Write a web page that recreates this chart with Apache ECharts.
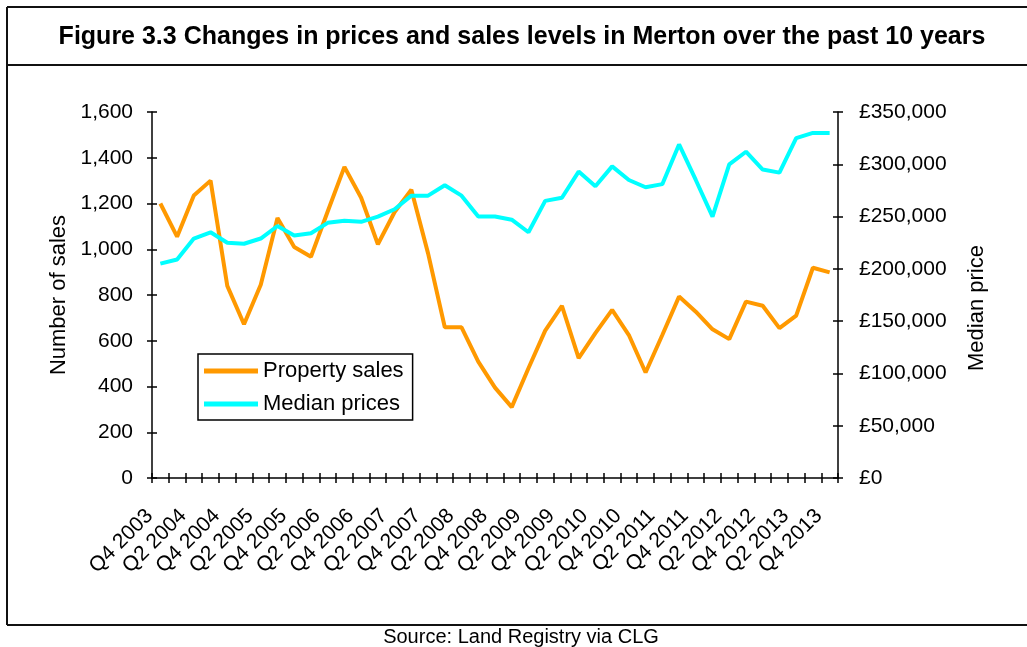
<!DOCTYPE html>
<html>
<head>
<meta charset="utf-8">
<title>Merton prices and sales</title>
<script src="https://cdn.jsdelivr.net/npm/echarts@6/dist/echarts.min.js"></script>
<style>
  html, body { margin: 0; padding: 0; background: #fff; }
  #chart { width: 1027px; height: 647px; }
</style>
</head>
<body>
<div id="chart"></div>
<script>
var quarters = [
	'Q4 2003', 'Q1 2004', 'Q2 2004', 'Q3 2004', 'Q4 2004',
	'Q1 2005', 'Q2 2005', 'Q3 2005', 'Q4 2005',
	'Q1 2006', 'Q2 2006', 'Q3 2006', 'Q4 2006',
	'Q1 2007', 'Q2 2007', 'Q3 2007', 'Q4 2007',
	'Q1 2008', 'Q2 2008', 'Q3 2008', 'Q4 2008',
	'Q1 2009', 'Q2 2009', 'Q3 2009', 'Q4 2009',
	'Q1 2010', 'Q2 2010', 'Q3 2010', 'Q4 2010',
	'Q1 2011', 'Q2 2011', 'Q3 2011', 'Q4 2011',
	'Q1 2012', 'Q2 2012', 'Q3 2012', 'Q4 2012',
	'Q1 2013', 'Q2 2013', 'Q3 2013', 'Q4 2013'
];
// property sales (number of sales)
var sales = [
	1200, 1055, 1235, 1300, 840,
	672, 845, 1137, 1010,
	967, 1165, 1360, 1225,
	1022, 1163, 1260, 982,
	659, 659, 509, 395,
	310, 480, 644, 752,
	524, 633, 735, 625,
	461, 625, 793, 727,
	650, 607, 771, 753,
	655, 710, 919, 899
];
// median prices (£)
var prices = [
	205000, 209000, 229000, 235000, 225000,
	224000, 229000, 241000, 232000,
	234000, 244000, 246000, 245000,
	250000, 257000, 270000, 270000,
	280000, 270000, 250000, 250000,
	247000, 235000, 265000, 268000,
	293000, 279000, 298000, 285000,
	278000, 281000, 319000, 285000,
	250000, 300000, 312000, 295000,
	292000, 325000, 330000, 330000
];
var salesTicks = { min: 0, max: 1600, interval: 200 };
var priceTicks = { min: 0, max: 350000, interval: 50000 };

var font = "'Liberation Sans', Arial, sans-serif";

function commas(v) {
	return String(v).replace(/\B(?=(\d{3})+(?!\d))/g, ',');
}

var axisLine = { show: true, lineStyle: { color: '#000', width: 1.5 } };
var tickStyle = { color: '#000', width: 1.5 };

var myChart = echarts.init(document.getElementById('chart'));
var option = {
	animation: false,
	backgroundColor: '#fff',
	textStyle: { fontFamily: font },
	grid: { left: 152, right: 189, top: 112, bottom: 169 },
	legend: {
		orient: 'vertical',
		left: 198,
		top: 354,
		padding: [6, 9, 5, 6],
		itemGap: 11,
		itemWidth: 54,
		itemHeight: 5,
		icon: 'rect',
		borderColor: '#000',
		borderWidth: 1.5,
		textStyle: { color: '#000', fontSize: 22, fontFamily: font },
		data: ['Property sales', 'Median prices']
	},
	xAxis: [{
		type: 'category',
		data: quarters,
		boundaryGap: true,
		axisLine: axisLine,
		axisTick: { show: true, interval: 0, length: 5, lineStyle: tickStyle },
		axisLabel: { interval: 1, rotate: 45, margin: 24, padding: [0, 15, 0, 0], color: '#000', fontSize: 21, fontFamily: font },
		splitLine: { show: false }
	}, {
		type: 'category',
		data: quarters,
		position: 'bottom',
		boundaryGap: true,
		axisLine: { show: false },
		axisTick: { show: true, inside: true, interval: 0, length: 5, lineStyle: tickStyle },
		axisLabel: { show: false },
		splitLine: { show: false }
	}],
	yAxis: [{
		type: 'value',
		position: 'left',
		min: salesTicks.min, max: salesTicks.max, interval: salesTicks.interval,
		name: 'Number of sales',
		nameLocation: 'middle',
		nameGap: 80,
		nameTextStyle: { color: '#000', fontSize: 22, fontFamily: font },
		axisLine: axisLine,
		axisTick: { show: true, length: 5, lineStyle: tickStyle },
		axisLabel: { margin: 19, color: '#000', fontSize: 21, fontFamily: font, formatter: commas },
		splitLine: { show: false }
	}, {
		type: 'value',
		position: 'right',
		min: priceTicks.min, max: priceTicks.max, interval: priceTicks.interval,
		name: 'Median price',
		nameLocation: 'middle',
		nameGap: 128,
		nameTextStyle: { color: '#000', fontSize: 22, fontFamily: font, padding: [0, 26, 0, 0] },
		axisLine: axisLine,
		axisTick: { show: true, length: 5, lineStyle: tickStyle },
		axisLabel: { margin: 21, color: '#000', fontSize: 21, fontFamily: font, formatter: function (v) { return '£' + commas(v); } },
		splitLine: { show: false }
	}, {
		type: 'value',
		position: 'left',
		min: salesTicks.min, max: salesTicks.max, interval: salesTicks.interval,
		axisLine: { show: false },
		axisTick: { show: true, inside: true, length: 5, lineStyle: tickStyle },
		axisLabel: { show: false },
		splitLine: { show: false }
	}, {
		type: 'value',
		position: 'right',
		min: priceTicks.min, max: priceTicks.max, interval: priceTicks.interval,
		axisLine: { show: false },
		axisTick: { show: true, inside: true, length: 5, lineStyle: tickStyle },
		axisLabel: { show: false },
		splitLine: { show: false }
	}],
	series: [{
		name: 'Property sales',
		type: 'line',
		xAxisIndex: 0,
		yAxisIndex: 0,
		data: sales,
		symbol: 'none',
		color: '#FF9900',
		lineStyle: { color: '#FF9900', width: 4 }
	}, {
		name: 'Median prices',
		type: 'line',
		xAxisIndex: 0,
		yAxisIndex: 1,
		data: prices,
		symbol: 'none',
		color: '#00FFFF',
		lineStyle: { color: '#00FFFF', width: 4 }
	}],
	graphic: [
		// frame around the figure
		{ type: 'line', shape: { x1: 7, y1: 7, x2: 1027, y2: 7 }, style: { stroke: '#111', lineWidth: 2 } },
		{ type: 'line', shape: { x1: 7, y1: 65, x2: 1027, y2: 65 }, style: { stroke: '#111', lineWidth: 2 } },
		{ type: 'line', shape: { x1: 7, y1: 7, x2: 7, y2: 625 }, style: { stroke: '#111', lineWidth: 2 } },
		{ type: 'line', shape: { x1: 7, y1: 625, x2: 1027, y2: 625 }, style: { stroke: '#111', lineWidth: 2 } },
		{
			type: 'text', x: 522, y: 37,
			style: {
				text: 'Figure 3.3 Changes in prices and sales levels in Merton over the past 10 years',
				fill: '#000', font: 'bold 25px ' + font, textAlign: 'center', textVerticalAlign: 'middle'
			}
		},
		{
			type: 'text', x: 521, y: 637,
			style: {
				text: 'Source: Land Registry via CLG',
				fill: '#000', font: '20px ' + font,
				textAlign: 'center', textVerticalAlign: 'middle'
			}
		}
	]
};
myChart.setOption(option);
</script>
</body>
</html>
